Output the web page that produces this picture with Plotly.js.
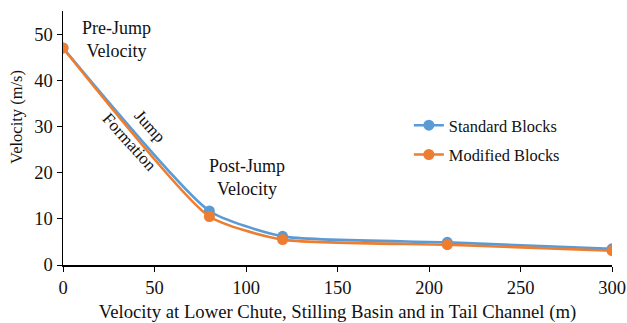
<!DOCTYPE html>
<html>
<head>
<meta charset="utf-8">
<script src="https://cdn.plot.ly/plotly-3.0.1.min.js"></script>
<style>
  html, body { margin: 0; padding: 0; background: #fff; }
  #chart { width: 627px; height: 323px; }
</style>
</head>
<body>
<div id="chart"></div>
<script>
// Distance along lower chute, stilling basin and tail channel (m)
const distance = [0, 80, 120, 210, 300];
// Flow velocity (m/s) for each block arrangement
const standardBlocks = [47, 11.7, 6.2, 4.9, 3.5];
const modifiedBlocks = [47, 10.5, 5.5, 4.4, 3.1];
const seriesNames = ['Standard Blocks', 'Modified Blocks'];
const xTicks = [0, 50, 100, 150, 200, 250, 300];
const yTicks = [0, 10, 20, 30, 40, 50];

const serif = "'Liberation Serif', 'Times New Roman', serif";
const ink = '#111';

function series(x, y, name, color, group) {
  return {
    x: x, y: y, name: name, legendgroup: group,
    type: 'scatter', mode: 'lines+markers',
    line: { color: color, width: 2.6, shape: 'spline', smoothing: 0.55 },
    marker: { color: color, size: 11 }
  };
}

const traces = [
  series(distance, standardBlocks, seriesNames[0], '#5B9BD5', 'std'),
  series(distance, modifiedBlocks, seriesNames[1], '#ED7D31', 'mod')
];

const note = (x, y, text, angle, size) => ({
  x: x, y: y, xref: 'x', yref: 'y', text: text, textangle: angle || 0,
  showarrow: false, font: { size: size, family: serif, color: ink }
});

const layout = {
  width: 627, height: 323,
  margin: { l: 63, r: 15, t: 11, b: 58 },
  paper_bgcolor: '#fff', plot_bgcolor: '#fff',
  font: { family: serif, size: 16, color: ink },
  showlegend: true,
  legend: {
    x: 0.63, y: 0.618, xanchor: 'left', yanchor: 'top',
    bgcolor: 'rgba(0,0,0,0)', font: { size: 16.4, family: serif, color: ink },
    traceorder: 'grouped', tracegroupgap: 5
  },
  xaxis: {
    range: [0, 300], tickvals: xTicks, ticktext: xTicks.map(String),
    showgrid: false, zeroline: false, showline: true,
    linecolor: '#000', linewidth: 1.5,
    ticks: 'outside', ticklen: 5, tickcolor: '#000', tickwidth: 1,
    tickfont: { size: 18.5, family: serif, color: ink },
    title: { text: 'Velocity at Lower Chute, Stilling Basin and in Tail Channel (m)',
             font: { size: 18.7, family: serif, color: ink }, standoff: 8 }
  },
  yaxis: {
    range: [0, 55], tickvals: yTicks, ticktext: yTicks.map(String),
    showgrid: false, zeroline: false, showline: true,
    linecolor: '#000', linewidth: 1.5,
    ticks: 'outside', ticklen: 5, tickcolor: '#000', tickwidth: 1,
    tickfont: { size: 18.5, family: serif, color: ink }
  },
  annotations: [
    {
      x: -0.0838, y: 0.583, xref: 'paper', yref: 'paper', textangle: -90,
      xanchor: 'center', yanchor: 'middle', text: 'Velocity (m/s)',
      showarrow: false, font: { size: 16.5, family: serif, color: ink }
    },
    note(29.2, 48.9, 'Pre-Jump<br>Velocity', 0, 18),
    note(47.5, 29.9, 'Jump', 48, 17),
    note(36.6, 26.6, 'Formation', 48, 17),
    note(100.3, 18.9, 'Post-Jump<br>Velocity', 0, 18)
  ]
};

Plotly.newPlot('chart', traces, layout, { displayModeBar: false, staticPlot: true });
</script>
</body>
</html>
